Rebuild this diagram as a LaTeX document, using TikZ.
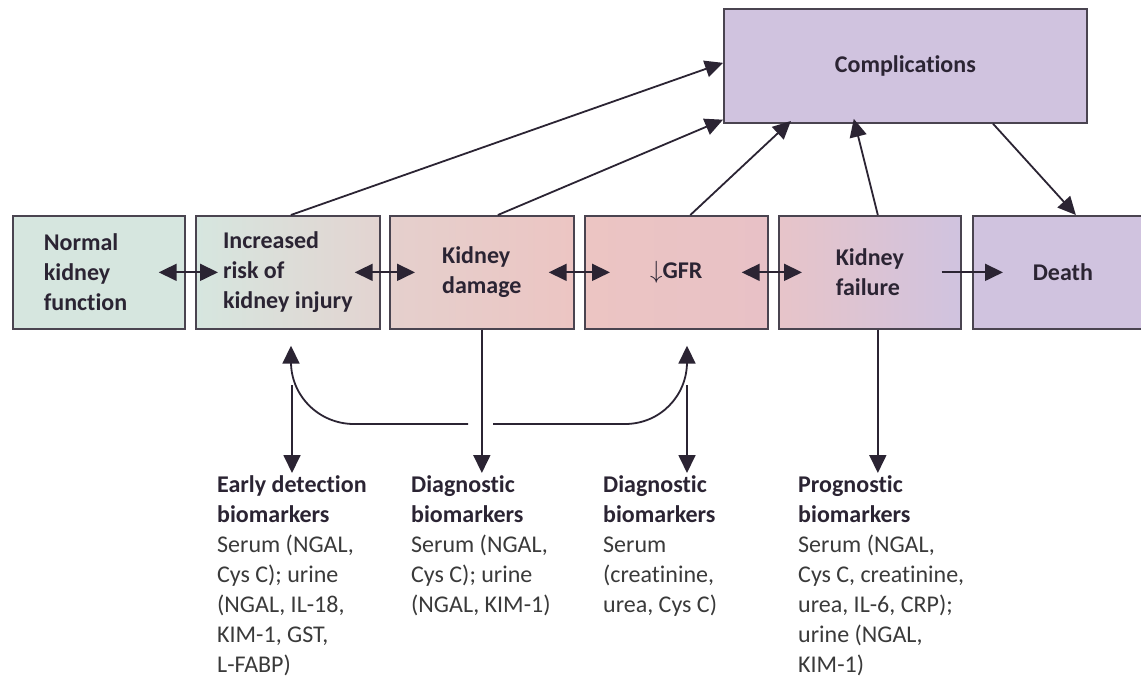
\documentclass[tikz,border=0pt]{standalone}
\usepackage{fontspec}
\setmainfont{Carlito}[Ligatures=NoCommon]
\usetikzlibrary{arrows.meta}
\definecolor{ink}{HTML}{2B2433}
\definecolor{edge}{HTML}{4A4450}
\definecolor{txt}{HTML}{3A3A3A}
\definecolor{teal}{HTML}{D6E6DF}
\definecolor{tealpink}{HTML}{E3D4D1}
\definecolor{pinkA}{HTML}{E5D0CD}
\definecolor{pinkB}{HTML}{ECC5C3}
\definecolor{pinkC}{HTML}{E8C1C6}
\definecolor{pinkD}{HTML}{E7C4C9}
\definecolor{lav}{HTML}{D0C3DF}
\begin{document}
\begin{tikzpicture}[x=1pt,y=-1pt,
  box/.style={draw=edge, line width=1.7pt, minimum height=113pt, inner sep=0pt,
    anchor=north west, align=left, text=ink, font=\fontsize{24}{30}\selectfont\bfseries},
  conn/.style={draw=ink, line width=1.8pt, -{Triangle[length=18pt,width=17pt]}},
  dconn/.style={draw=ink, line width=1.8pt, {Triangle[length=18pt,width=17pt]}-{Triangle[length=18pt,width=17pt]}},
  bio/.style={anchor=north west, inner sep=0pt, align=left, text=txt,
    font=\fontsize{24}{30}\selectfont}]
\useasboundingbox[fill=white] (0,0) rectangle (1141,677);

% main row
\node[box, fill=teal, minimum width=172pt, text width=110pt] (b1) at (12,215)
  {Normal\\kidney\\function};
\node[box, left color=teal, right color=tealpink, minimum width=184pt] (b2) at (195,215)
  {Increased\\risk of\\kidney injury};
\node[box, left color=pinkA, right color=pinkB, minimum width=184pt] (b3) at (389,215)
  {Kidney\\damage};
\node[box, left color=pinkB, right color=pinkC, minimum width=183pt] (b4) at (584,215)
  {$\downarrow$GFR};
\node[box, left color=pinkD, right color=lav, minimum width=182pt] (b5) at (778,215)
  {Kidney\\failure};
\node[box, fill=lav, minimum width=180pt] (death) at (972,215) {Death};

\node[box, fill=lav, minimum width=363pt, minimum height=114pt] (comp) at (723,8)
  {Complications};

% biomarker texts
\node[bio] (early) at (217,475) {\textbf{\color{ink}Early detection}\\\textbf{\color{ink}biomarkers}\\Serum (NGAL,\\Cys C); urine\\(NGAL, IL-18,\\KIM-1, GST,\\L-FABP)};
\node[bio] (diag1) at (411,475) {\textbf{\color{ink}Diagnostic}\\\textbf{\color{ink}biomarkers}\\Serum (NGAL,\\Cys C); urine\\(NGAL, KIM-1)};
\node[bio] (diag2) at (603,475) {\textbf{\color{ink}Diagnostic}\\\textbf{\color{ink}biomarkers}\\Serum\\(creatinine,\\urea, Cys C)};
\node[bio] (prog) at (798,475) {\textbf{\color{ink}Prognostic}\\\textbf{\color{ink}biomarkers}\\Serum (NGAL,\\Cys C, creatinine,\\urea, IL-6, CRP);\\urine (NGAL,\\KIM-1)};

% horizontal double arrows
\draw[dconn] ([xshift=-27pt]b1.east) -- ([xshift=23pt]b2.west);
\draw[dconn] ([xshift=-26pt]b2.east) -- ([xshift=26pt]b3.west);
\draw[dconn] ([xshift=-26pt]b3.east) -- ([xshift=26pt]b4.west);
\draw[dconn] ([xshift=-27pt]b4.east) -- ([xshift=24pt]b5.west);
\draw[conn] ([xshift=-20pt]b5.east) -- ([xshift=31pt]death.west);

% to complications
\draw[conn] ([xshift=3pt]b2.north) -- ([yshift=3pt]comp.west);
\draw[conn] ([xshift=16pt]b3.north) -- ([yshift=4pt]comp.south west);
\draw[conn, shorten >=-4pt] ([xshift=14pt]b4.north) -- ([xshift=65pt]comp.south west);
\draw[conn, shorten >=-5pt] ([xshift=8pt]b5.north) -- ([xshift=132pt]comp.south west);
\draw[conn] ([xshift=270pt]comp.south west) -- ([xshift=13pt]death.north);

% down arrows to biomarkers
\draw[conn, shorten >=2pt] (b3.south) -- (b3.south |- diag1.north);
\draw[conn, shorten >=2pt] ([xshift=8pt]b5.south) -- ([xshift=8pt]b5.south |- prog.north);
\coordinate (jl) at (292,385);
\coordinate (jr) at (687,385);
\draw[conn, shorten >=2pt] (jl) -- (jl |- early.north);
\draw[conn, shorten >=2pt] (jr) -- (jr |- diag2.north);

% curved arrows back up
\coordinate (hl) at (468,424);
\coordinate (hr) at (493,424);
\coordinate (ul) at (291,362);
\coordinate (ur) at (687,362);
\draw[conn, shorten >=16pt] (hl) -- (354,424) .. controls (319,424) and (291,396) .. (ul) -- (ul |- b2.south);
\draw[conn, shorten >=16pt] (hr) -- (625,424) .. controls (660,424) and (687,396) .. (ur) -- (ur |- b4.south);
\end{tikzpicture}
\end{document}
